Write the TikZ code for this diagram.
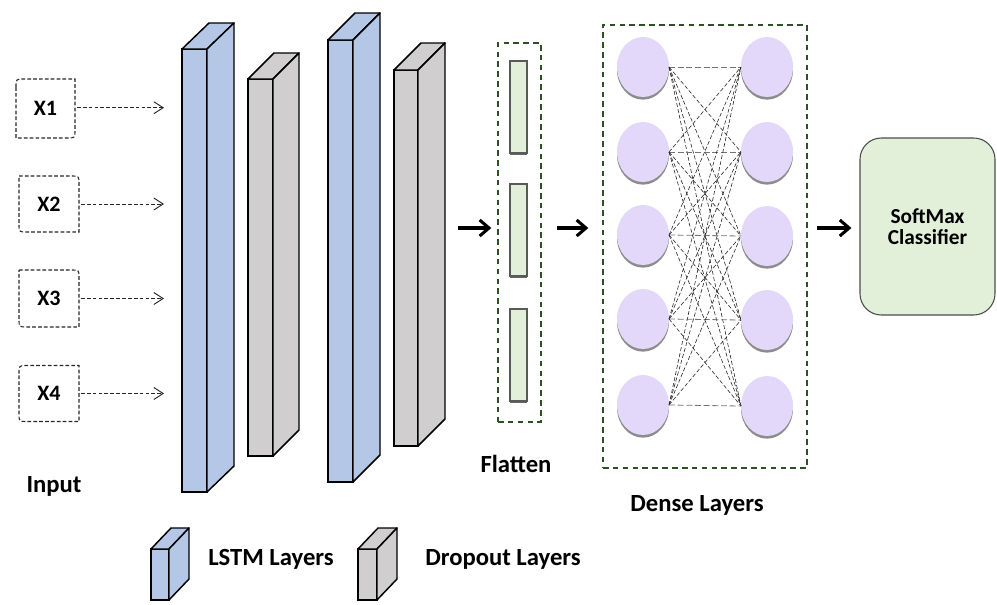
\documentclass[tikz,border=0pt]{standalone}
\usepackage{fontspec}
\setmainfont{Carlito}
\usetikzlibrary{arrows.meta,shapes.geometric,shadows}

\definecolor{lstmblue}{HTML}{B4C7E7}
\definecolor{dropgray}{HTML}{D0CECE}
\definecolor{paleg}{HTML}{E2F0D9}
\definecolor{lavender}{HTML}{E3D8FA}
\definecolor{darkgreen}{HTML}{2C5224}

% one 3-D layer block: name, left x, top y, width, height, depth dx, depth dy, fill
\newcommand\layerblock[8]{%
  \node[blockface, fill=#8, minimum width=#4*0.75pt, minimum height=#5*0.75pt]
    (#1) at ({#2+#4/2},{#3+#5/2}) {};
  \filldraw[blockedge, fill=#8] (#1.north west) -- ++(#6,-#7) -- ++(#4,0) -- (#1.north east) -- cycle;
  \filldraw[blockedge, fill=#8] (#1.north east) -- ++(#6,-#7) -- ++(0,#5) -- (#1.south east) -- cycle;
}

\tikzset{
  blockface/.style={draw=black, line width=1.1pt, rectangle, inner sep=0pt, outer sep=0pt},
  blockedge/.style={draw=black, line width=1.1pt, line join=round},
  label/.style={font=\bfseries\fontsize{18.5}{22}\selectfont, inner sep=0pt, anchor=base},
  xlabel/.style={font=\bfseries\fontsize{16.5}{19}\selectfont, inner sep=0pt},
  inshape/.style={inner sep=0pt, outer sep=0pt},
  inborder/.style={draw=black!85, line width=0.8pt, dash pattern=on 2.8pt off 1.6pt},
  inarrow/.style={draw=black!85, line width=0.7pt, dash pattern=on 2.8pt off 1.6pt,
    -{Straight Barb[length=7pt,width=9pt,line width=0.7pt]}, shorten <=1.5pt},
  bigarrow/.style={draw=black, line width=2.3pt, -{Straight Barb[length=7pt,width=12pt,line width=2.3pt]}},
  groupbox/.style={draw=darkgreen, line width=1.5pt, dash pattern=on 4.2pt off 3.2pt, inner sep=0pt, outer sep=0pt},
  bar/.style={draw=black!65, line width=0.8pt, fill=paleg, inner sep=0pt, outer sep=0pt,
    minimum width=17*0.75pt, minimum height=92*0.75pt,
    drop shadow={shadow xshift=0pt, shadow yshift=-1.6pt, fill=black!60, opacity=1}},
  neuron/.style={ellipse, fill=lavender, inner sep=0pt, outer sep=0pt,
    minimum width=52*0.75pt, minimum height=60*0.75pt,
    drop shadow={shadow xshift=0pt, shadow yshift=-2pt, fill=black!45, opacity=1}},
  link/.style={draw=black!85, line width=0.45pt, dash pattern=on 3pt off 1.6pt},
  straightlink/.style={draw=black!55, line width=0.6pt, dash pattern=on 4.5pt off 2pt},
  softbox/.style={draw=black!70, line width=0.8pt, fill=paleg, rounded corners=16pt,
    minimum width=135*0.75pt, minimum height=177*0.75pt, align=center,
    font=\bfseries\fontsize{16}{15.5}\selectfont},
}

\begin{document}
\begin{tikzpicture}[x=0.75pt, y=-0.75pt]
\useasboundingbox (0,0) rectangle (997,604);

% ---------- inputs ----------
\node[inshape, minimum width=59*0.75pt, minimum height=59*0.75pt] (x1) at (45.5,108.5) {};
\node[inshape, minimum width=60*0.75pt, minimum height=56*0.75pt] (x2) at (49,204) {};
\node[inshape, minimum width=60*0.75pt, minimum height=57*0.75pt] (x3) at (49,298.5) {};
\node[inshape, minimum width=60*0.75pt, minimum height=56*0.75pt] (x4) at (49,393.5) {};
\node[xlabel] (t1) at (x1) {X1};
\node[xlabel] (t2) at (x2) {X2};
\node[xlabel] (t3) at (x3) {X3};
\node[xlabel] (t4) at (x4) {X4};

% borders with two rounded corners each
\draw[inborder] ([yshift=-6pt]x1.north west) .. controls (x1.north west) .. ([xshift=6pt]x1.north west)
  -- (x1.north east) -- ([yshift=6pt]x1.south east) .. controls (x1.south east) .. ([xshift=-6pt]x1.south east)
  -- (x1.south west) -- cycle;
\draw[inborder] (x2.north west) -- ([xshift=-6pt]x2.north east) .. controls (x2.north east) .. ([yshift=-6pt]x2.north east)
  -- (x2.south east) -- ([xshift=6pt]x2.south west) .. controls (x2.south west) .. ([yshift=6pt]x2.south west) -- cycle;
\draw[inborder] (x3.north west) -- ([xshift=-6pt]x3.north east) .. controls (x3.north east) .. ([yshift=-6pt]x3.north east)
  -- (x3.south east) -- ([xshift=6pt]x3.south west) .. controls (x3.south west) .. ([yshift=6pt]x3.south west) -- cycle;
\draw[inborder] ([yshift=-6pt]x4.north west) .. controls (x4.north west) .. ([xshift=6pt]x4.north west)
  -- (x4.north east) -- (x4.south east) -- ([xshift=6pt]x4.south west) .. controls (x4.south west) .. ([yshift=6pt]x4.south west) -- cycle;

\coordinate (inend) at (164,0);
\draw[inarrow] ([yshift=0.6pt]x1.east) -- ([yshift=0.6pt]x1.east -| inend);
\draw[inarrow] (x2.east) -- (x2.east -| inend);
\draw[inarrow] (x3.east) -- (x3.east -| inend);
\draw[inarrow] (x4.east) -- (x4.east -| inend);

\node[label] (inputlbl) at (54,492) {Input};

% ---------- LSTM and dropout layers ----------
\layerblock{lstma}{182}{49}{25}{443}{27}{26}{lstmblue}
\layerblock{dropa}{248}{79}{25}{377}{26}{26}{dropgray}
\layerblock{lstmb}{328}{40}{25}{442}{27}{27}{lstmblue}
\layerblock{dropb}{394}{70}{24}{376}{27}{27}{dropgray}

% ---------- flatten ----------
\node[groupbox, minimum width=43*0.75pt, minimum height=379*0.75pt] (flat) at (519.5,232.5) {};
\node[bar] (bar1) at (518.5,107) {};
\node[bar] (bar2) at (518.5,230) {};
\node[bar] (bar3) at (518.5,355) {};
\node[label] (flatlbl) at (516,472) {Flatten};

% ---------- dense layers ----------
\node[groupbox, minimum width=204*0.75pt, minimum height=443*0.75pt] (dense) at (705,246.5) {};
\foreach \i/\yl/\yr in {1/67/67, 2/152/152, 3/235/236, 4/319/320, 5/405/406} {
  \node[neuron] (l\i) at (643,\yl) {};
  \node[neuron] (r\i) at (767,\yr) {};
}
% fully connected links: level ones in grey, crossing ones in black
\foreach \i in {1,...,5}
  \foreach \j in {1,...,5} {
    \ifnum\i=\j
      \draw[straightlink] (l\i.east) -- (r\j.west);
    \else
      \draw[link] (l\i.east) -- (r\j.west);
    \fi
  }
\node[label] (denselbl) at (697,511) {Dense Layers};

% ---------- classifier ----------
\node[softbox] (soft) at (927.5,226.5) {SoftMax\\Classifier};

% ---------- flow arrows ----------
\coordinate (a1) at (458,228);
\draw[bigarrow, shorten >=5pt] (a1) -- (a1 -| flat.west);
\draw[bigarrow, shorten <=12pt, shorten >=11pt] (flat.east |- a1) -- (dense.west |- a1);
\draw[bigarrow, shorten <=7.5pt, shorten >=6pt] (dense.east |- a1) -- (soft.west |- a1);

% ---------- legend ----------
\layerblock{keylstm}{151}{549}{18}{51}{20}{21}{lstmblue}
\layerblock{keydrop}{358}{549}{19}{51}{20}{21}{dropgray}
\node[label, anchor=base west] (keylstmlbl) at (208,565) {LSTM Layers};
\node[label, anchor=base west] (keydroplbl) at (425,565) {Dropout Layers};

\end{tikzpicture}
\end{document}
